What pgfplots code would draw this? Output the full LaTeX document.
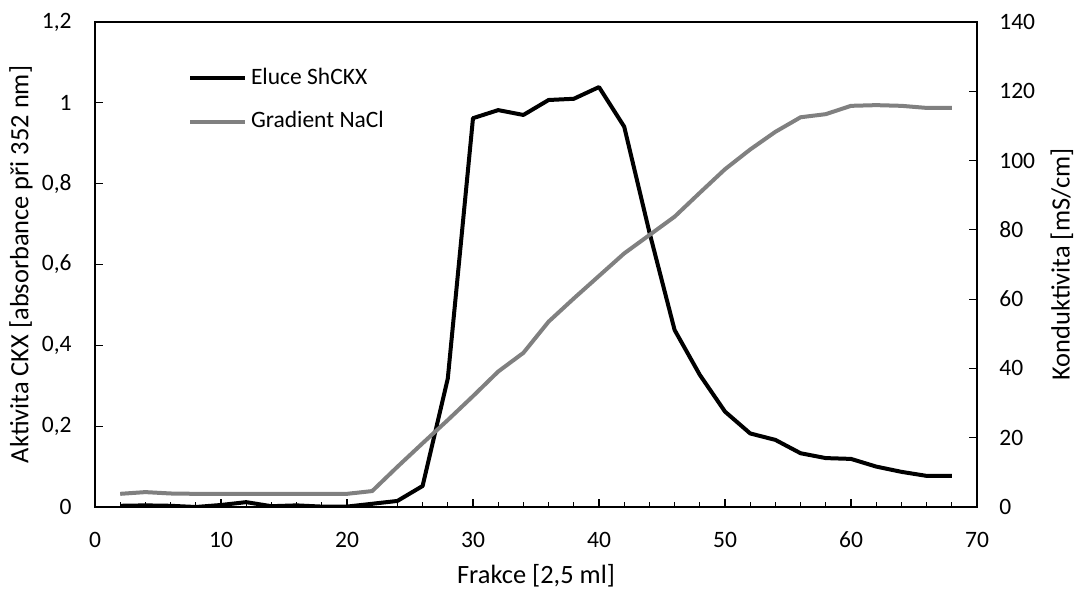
\documentclass[border=0pt]{standalone}
\usepackage{pgfplots}
\pgfplotsset{compat=1.18}
\usepackage{fontspec}
\setmainfont{Carlito}
\definecolor{gline}{RGB}{128,128,128}
\begin{document}
\fontsize{11.75}{14}\selectfont
\begin{tikzpicture}
\pgfplotsset{
  common/.style={
    scale only axis, width=441pt, height=242.5pt,
    xmin=0, xmax=70,
    xtick={0,10,...,70},
    minor xtick={2,4,...,68},
    tick align=inside,
    major tick length=4pt, minor tick length=2.5pt,
    axis line style={line width=0.75pt},
    every tick/.style={line width=0.6pt, black},
    /pgf/number format/assume math mode=true,
    /pgf/number format/use comma,
    ticklabel style={font=\fontsize{11.75}{14}\selectfont},
    label style={font=\fontsize{13.2}{15}\selectfont},
  }
}
\path[use as bounding box] (-47.5pt,-41pt) rectangle (490pt,253.5pt);
\begin{axis}[common,
  ytick pos=left, xtick pos=bottom,
  ymin=0, ymax=1.2, ytick={0,0.2,...,1.2},
  yticklabel style={inner sep=0pt, xshift=-11.5pt, /pgf/number format/fixed, /pgf/number format/precision=1},
  xticklabel style={inner sep=0pt, yshift=-12.3pt},
  xlabel={Frakce [2,5 ml]},
  xlabel style={at={(axis description cs:0.5,-0.117)}, anchor=north, inner sep=0pt},
  ylabel={Aktivita CKX [absorbance při 352 nm]},
  ylabel style={at={(axis description cs:-0.0975,0.5)}, anchor=north, inner sep=0pt},
  legend style={at={(axis description cs:0.105,0.84)}, anchor=west, draw=none, fill=none,
    font=\fontsize{11.75}{14}\selectfont, row sep=8pt, inner sep=0pt},
  legend cell align=left,
  legend image code/.code={\draw[#1] (0pt,0pt) -- (27.5pt,0pt);},
]
\addplot[black, line width=2pt, line join=round] coordinates {
(2,0.003) (4,0.004) (6,0.003) (8,0.000) (10,0.005) (12,0.012) (14,0.002) (16,0.004)
(18,0.001) (20,0.001) (22,0.008) (24,0.015) (26,0.052) (28,0.318) (30,0.962) (32,0.982)
(34,0.970) (36,1.007) (38,1.010) (40,1.039) (42,0.941) (44,0.680) (46,0.438) (48,0.327)
(50,0.236) (52,0.182) (54,0.166) (56,0.133) (58,0.121) (60,0.119) (62,0.100) (64,0.087)
(66,0.077) (68,0.077)
};
\addlegendentry{Eluce ShCKX}
\addlegendimage{gline, line width=2pt}
\addlegendentry{Gradient NaCl}
\end{axis}
\begin{axis}[common,
  axis y line*=right, axis x line=none,
  ymin=0, ymax=140, ytick={0,20,...,140},
  yticklabel style={inner sep=0pt, xshift=11pt},
  ylabel={Konduktivita [mS/cm]},
  ylabel style={at={(axis description cs:1.0828,0.5)}, anchor=north, inner sep=0pt},
]
\addplot[gline, line width=2pt, line join=round] coordinates {
(2,3.8) (4,4.3) (6,3.9) (8,3.8) (10,3.8) (12,3.8) (14,3.8) (16,3.8)
(18,3.8) (20,3.8) (22,4.6) (24,11.6) (26,18.4) (28,25.1) (30,32.0) (32,39.1)
(34,44.5) (36,53.5) (38,60.2) (40,66.7) (42,73.2) (44,78.5) (46,83.8) (48,90.7)
(50,97.5) (52,103.2) (54,108.3) (56,112.5) (58,113.4) (60,115.8) (62,116.0) (64,115.8)
(66,115.2) (68,115.2)
};
\end{axis}
\end{tikzpicture}
\end{document}
